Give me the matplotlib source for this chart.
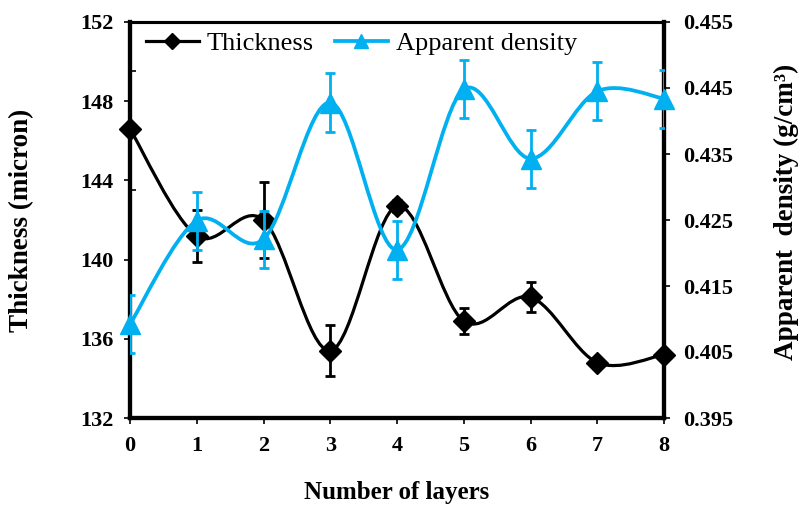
import matplotlib
matplotlib.use("Agg")
import matplotlib.pyplot as plt
from matplotlib.path import Path
from matplotlib.patches import PathPatch
from matplotlib.lines import Line2D
from matplotlib.ticker import FixedLocator, FormatStrFormatter
import numpy as np

layers = [0, 1, 2, 3, 4, 5, 6, 7, 8]
thickness = [146.6, 141.2, 142.0, 135.4, 142.7, 136.9, 138.1, 134.8, 135.2]
thickness_err = [0.0, 1.3, 1.9, 1.3, 0.3, 0.65, 0.75, 0.2, 0.2]
density = [0.4092, 0.4249, 0.4221, 0.4428, 0.4205, 0.4448, 0.4343, 0.4445, 0.4434]
density_err = [0.0044, 0.0044, 0.0043, 0.0044, 0.0044, 0.0044, 0.0044, 0.0044, 0.0044]

left_ticks = [132, 136, 140, 144, 148, 152]
right_ticks = [0.395, 0.405, 0.415, 0.425, 0.435, 0.445, 0.455]

BLUE = "#00B0F0"
SERIF = ["Liberation Serif", "DejaVu Serif"]
plt.rcParams["font.family"] = SERIF


def smooth_path(x, y):
    x = np.asarray(x, float)
    y = np.asarray(y, float)
    pts = np.column_stack([x, y])
    ext = np.vstack([pts[0], pts, pts[-1]])
    verts = [pts[0]]
    codes = [Path.MOVETO]
    for i in range(len(pts) - 1):
        p0, p1, p2, p3 = ext[i], ext[i + 1], ext[i + 2], ext[i + 3]
        c1 = p1 + (p2 - p0) / 6.0
        c2 = p2 - (p3 - p1) / 6.0
        verts += [c1, c2, p2]
        codes += [Path.CURVE4] * 3
    return Path(verts, codes)


fig = plt.figure(figsize=(7.98, 5.05), dpi=100)
ax = fig.add_axes([130 / 798, 1 - 418 / 505, (664 - 130) / 798, (418 - 22) / 505])
ax2 = ax.twinx()

# Thickness
ax.add_patch(PathPatch(smooth_path(layers, thickness), facecolor="none",
                       edgecolor="black", lw=2.3, zorder=2))
ax.errorbar(layers, thickness, yerr=thickness_err, fmt="none", ecolor="black",
            elinewidth=2.0, capsize=3.8, capthick=2.0, zorder=3)
ax.plot(layers, thickness, linestyle="none", marker="D", markersize=11,
        color="black", clip_on=False, zorder=4)

# Density
ax2.add_patch(PathPatch(smooth_path(layers, density), facecolor="none",
                        edgecolor=BLUE, lw=2.7, zorder=2))
ax2.errorbar(layers, density, yerr=density_err, fmt="none", ecolor=BLUE,
             elinewidth=2.0, capsize=3.8, capthick=2.0, zorder=3)
ax2.plot(layers, density, linestyle="none", marker="^", markersize=14,
         color=BLUE, clip_on=False, zorder=4)

ax.set_xlim(0, 8)
ax.set_ylim(132, 152)
ax2.set_ylim(0.395, 0.455)
ax.set_xticks(layers)
ax.set_yticks(left_ticks)
ax.yaxis.set_minor_locator(FixedLocator([149.5, 143.5]))
ax.tick_params(axis="y", which="minor", direction="in", length=4, width=1.2)
ax2.set_yticks(right_ticks)
ax2.yaxis.set_major_formatter(FormatStrFormatter("%.3f"))

for a in (ax, ax2):
    for s in a.spines.values():
        s.set_linewidth(3.0)
    a.spines["top"].set_linewidth(2.2)
    a.tick_params(which="major", direction="out", length=4, width=1.2,
                  labelsize=16, pad=8)
    for lab in a.get_xticklabels() + a.get_yticklabels():
        lab.set_fontweight("bold")
ax.tick_params(axis="x", pad=9)
ax2.tick_params(axis="y", pad=10)

ax.set_xlabel("Number of layers", fontsize=18, fontweight="bold", labelpad=18)
ax.set_ylabel("Thickness (micron)", fontsize=19.5, fontweight="bold", labelpad=33)
ax2.set_ylabel("Apparent  density (g/cm\u00b3)", fontsize=19.5,
               fontweight="bold", labelpad=29)
ax2.yaxis.label.set_y(0.52)

handles = [
    Line2D([], [], color="black", lw=2.3, marker="D", markersize=8),
    Line2D([], [], color=BLUE, lw=2.7, marker="^", markersize=10),
]
ax2.legend(handles, ["Thickness", "Apparent density"], loc="upper left",
           bbox_to_anchor=(0.015, 0.995), ncol=2, frameon=False, fontsize=19,
           handlelength=2.0, handletextpad=0.3, columnspacing=0.8,
           borderaxespad=0.0, borderpad=0.3)

fig.savefig("out.png", dpi=100)
